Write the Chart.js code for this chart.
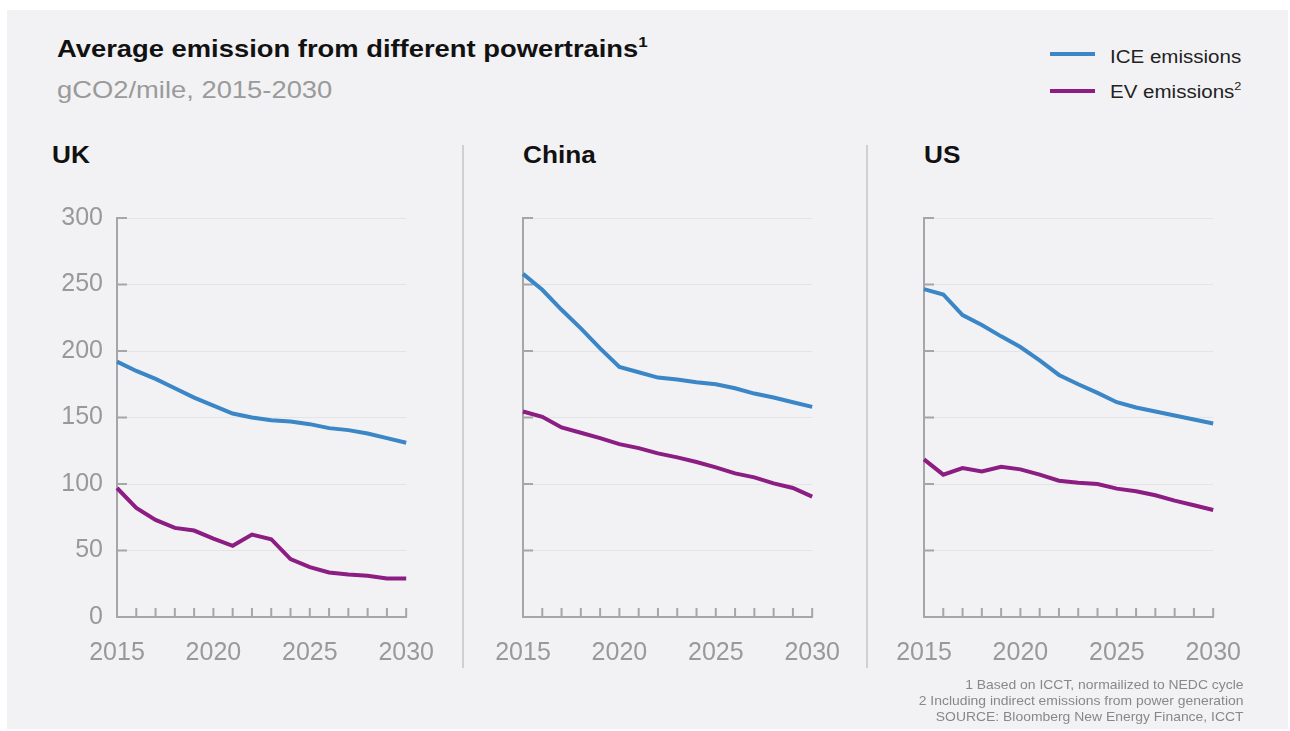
<!doctype html>
<html>
<head>
<meta charset="utf-8">
<title>Average emission from different powertrains</title>
<script src="https://cdn.jsdelivr.net/npm/chart.js"></script>
<style>
  body { margin: 0; background: #fff; font-family: "Liberation Sans", Arial, sans-serif; }
  #page { position: relative; width: 1290px; height: 731px; overflow: hidden; }
  #panel { position: absolute; left: 7px; top: 10px; width: 1281px; height: 719px; background: #f2f2f4; }
  .txt { position: absolute; white-space: nowrap; line-height: 1; transform-origin: left top; transform: scaleX(1.14); }
  .title { left: 57px; top: 37px; font-size: 24px; font-weight: bold; color: #111; }
  .subtitle { left: 57px; top: 78px; font-size: 24px; color: #9a9a9a; }
  .region { top: 144px; font-size: 23px; font-weight: bold; color: #111; }
  .legend { left: 1110px; font-size: 18px; color: #222; }
  .swatch { position: absolute; left: 1050px; width: 45px; height: 4px; }
  .sep { position: absolute; top: 145px; width: 2px; height: 523px; background: #d0d0d2; }
  .notes { position: absolute; right: 47px; top: 677px; font-size: 13px; line-height: 16px; color: #888;
           text-align: right; white-space: nowrap; transform-origin: right top; transform: scaleX(1.07); }
  .box { position: absolute; }
  sup { font-size: 62%; line-height: 0; vertical-align: 0.7em; }
</style>
</head>
<body>
<div id="page">
  <div id="panel"></div>

  <div class="txt title">Average emission from different powertrains<sup>1</sup></div>
  <div class="txt subtitle">gCO2/mile, 2015-2030</div>

  <div class="swatch" style="top:52px; background:#3a86c6"></div>
  <div class="txt legend" style="top:48px">ICE emissions</div>
  <div class="swatch" style="top:89px; background:#8c1d82"></div>
  <div class="txt legend" style="top:83px">EV emissions<sup>2</sup></div>

  <div class="txt region" style="left:52px">UK</div>
  <div class="txt region" style="left:523px">China</div>
  <div class="txt region" style="left:924px">US</div>

  <div class="sep" style="left:462px"></div>
  <div class="sep" style="left:866px"></div>

  <!-- the UK box is taller because its value labels add space above the plot -->
  <div class="box" style="left:40px; top:189px"><canvas id="uk" width="415" height="491"></canvas></div>
  <div class="box" style="left:446px; top:200px"><canvas id="china" width="415" height="480"></canvas></div>
  <div class="box" style="left:847px; top:200px"><canvas id="us" width="415" height="480"></canvas></div>

  <div class="notes">1 Based on ICCT, normailized to NEDC cycle<br>2 Including indirect emissions from power generation<br>SOURCE: Bloomberg New Energy Finance, ICCT</div>
</div>

<script>

	const years = [2015, 2016, 2017, 2018, 2019, 2020, 2021, 2022, 2023, 2024, 2025, 2026, 2027, 2028, 2029, 2030]
	const labelYears = [2015, 2020, 2025, 2030]

	// gCO2/mile
	const ukIce    = [192, 185, 179, 172, 165, 159, 153, 150, 148, 147, 145, 142, 140.5, 138, 134.5, 131]
	const ukEv     = [97, 82, 73, 67, 65, 59, 53.5, 62, 58.5, 43.5, 37.5, 33.5, 32, 31, 29, 29]
	const chinaIce = [258, 246, 231, 217, 202, 188, 184, 180, 178.5, 176.5, 175, 172, 168, 165, 161.5, 158]
	const chinaEv  = [154.5, 150.5, 142.5, 138.5, 134.5, 130, 127, 123, 120, 116.5, 112.5, 108, 105, 100.5, 97, 90.5]
	const usIce    = [246.5, 242.5, 227, 219.5, 211, 203, 193, 182, 175, 168.5, 161.5, 157.5, 154.5, 151.5, 148.5, 145.5]
	const usEv     = [118.5, 107, 112, 109.5, 113, 111, 107, 102.5, 101, 100, 96.5, 94.5, 91.5, 87.5, 84, 80.5]

	const iceColor = '#3a86c6'
	const evColor = '#8c1d82'
	const axisGrey = '#a6a6a8'

	// small tick marks pointing into the plot, like the original axes
	const innerTicks = {
		id: 'innerTicks',
		beforeDatasetsDraw(chart) {
			const { ctx, chartArea, scales: { x, y } } = chart
			ctx.save()
			ctx.strokeStyle = axisGrey
			ctx.lineWidth = 2
			ctx.beginPath()
			x.ticks.forEach((t, i) => {
				if (i === 0) return
				const px = x.getPixelForTick(i)
				ctx.moveTo(px, chartArea.bottom)
				ctx.lineTo(px, chartArea.bottom - 9)
			})
			y.ticks.forEach((t, i) => {
				if (t.value === 0) return
				const py = y.getPixelForTick(i)
				ctx.moveTo(chartArea.left, py)
				ctx.lineTo(chartArea.left + 10, py)
			})
			ctx.stroke()
			ctx.restore()
		}
	}

	function draw(id, ice, ev, showValues) {
		const ctx = document.getElementById(id).getContext('2d')
		return new Chart(ctx, {
			type: 'line',
			data: {
				labels: years,
				datasets: [
					{ label: 'ICE emissions', data: ice, borderColor: iceColor, borderWidth: 4, pointRadius: 0, tension: 0 },
					{ label: 'EV emissions', data: ev, borderColor: evColor, borderWidth: 4, pointRadius: 0, tension: 0 },
				]
			},
			options: {
				responsive: false,
				animation: false,
				events: [],
				layout: { padding: { top: 18, right: 43, bottom: 0, left: 0 } },
				plugins: { legend: { display: false }, tooltip: { enabled: false } },
				scales: {
					x: {
						grid: { display: false, drawTicks: false },
						border: { display: true, color: axisGrey, width: 2 },
						afterFit: scale => { scale.height = 63 },
						ticks: {
							autoSkip: false,
							maxRotation: 0,
							minRotation: 0,
							padding: 21,
							color: '#999',
							font: { family: '"Liberation Sans", Arial, sans-serif', size: 25 },
							callback: function (value) {
								const yr = this.getLabelForValue(value)
								return labelYears.includes(yr) ? String(yr) : ''
							}
						}
					},
					y: {
						min: 0,
						max: 300,
						afterFit: scale => { scale.width = 77 },
						grid: { color: '#e4e4e7', lineWidth: 1, drawTicks: false },
						border: { display: true, color: axisGrey, width: 2 },
						ticks: {
							display: showValues,
							stepSize: 50,
							padding: 14,
							color: '#999',
							font: { family: '"Liberation Sans", Arial, sans-serif', size: 25 }
						}
					}
				}
			},
			plugins: [innerTicks]
		})
	}

	draw('uk', ukIce, ukEv, true)
	draw('china', chinaIce, chinaEv, false)
	draw('us', usIce, usEv, false)

</script>
</body>
</html>
